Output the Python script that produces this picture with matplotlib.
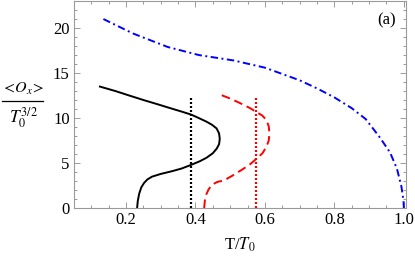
import matplotlib.pyplot as plt
import numpy as np

plt.rcParams['font.family'] = ['Liberation Serif', 'DejaVu Serif']
plt.rcParams['mathtext.fontset'] = 'stix'

# curves, (T/T0, <Ox>/T0^{3/2})
black_x = [0.232, 0.234, 0.238, 0.244, 0.252, 0.262, 0.275, 0.300, 0.332, 0.360,
           0.387, 0.412, 0.432, 0.450, 0.461, 0.468, 0.470, 0.468, 0.461, 0.448,
           0.432, 0.410, 0.387, 0.358, 0.328, 0.290, 0.251, 0.210, 0.170, 0.125]
black_y = [0.0, 0.8, 1.6, 2.3, 2.8, 3.2, 3.5, 3.8, 4.1, 4.4,
           4.8, 5.2, 5.6, 6.1, 6.6, 7.1, 7.7, 8.3, 8.85, 9.25,
           9.6, 10.0, 10.4, 10.75, 11.1, 11.55, 12.0, 12.5, 13.0, 13.5]

red_x = [0.425, 0.427, 0.431, 0.438, 0.448, 0.462, 0.483, 0.506, 0.531, 0.555,
         0.576, 0.593, 0.604, 0.611, 0.613, 0.611, 0.604, 0.592, 0.574, 0.559,
         0.540, 0.521, 0.495, 0.467]
red_y = [0.0, 0.8, 1.5, 2.1, 2.6, 2.9, 3.1, 3.6, 4.2, 4.8,
         5.5, 6.1, 6.8, 7.5, 8.3, 9.1, 9.8, 10.3, 10.7, 11.07,
         11.45, 11.8, 12.25, 12.67]

blue_x = [0.135, 0.22, 0.32, 0.41, 0.51, 0.60, 0.70, 0.75, 0.80, 0.85,
          0.89, 0.93, 0.96, 0.98, 0.993, 0.999, 1.0]
blue_y = [21.0, 19.4, 17.9, 17.0, 16.4, 15.6, 14.2, 13.3, 12.3, 11.1,
          9.9, 7.9, 6.2, 4.4, 2.4, 0.8, 0.0]

crit_x = [0.387, 0.575]
crit_top = 12.4

fig = plt.figure(figsize=(4.15, 2.57), dpi=100)
ax = fig.add_axes([0.178, 0.19, 0.801, 0.806])

ax.plot(black_x, black_y, color='black', lw=1.4)
ax.plot(red_x, red_y, color='red', lw=1.4, dashes=(4.5, 2.5))
ax.plot(blue_x, blue_y, color='blue', lw=1.4, dashes=(3.8, 1.8, 1.0, 1.8))
ax.plot([crit_x[0], crit_x[0]], [0, crit_top], color='black', lw=1.6, dashes=(0.9, 0.9))
ax.plot([crit_x[1], crit_x[1]], [0, crit_top], color='red', lw=1.6, dashes=(0.9, 0.9))

ax.set_xlim(0.051, 1.007)
ax.set_ylim(0, 23)
ax.set_xticks([0.2, 0.4, 0.6, 0.8, 1.0])
ax.set_xticklabels(['0.2', '0.4', '0.6', '0.8', '1.0'])
ax.set_xticks(np.arange(0.05, 1.01, 0.05), minor=True)
ax.set_yticks([0, 5, 10, 15, 20])
ax.set_yticks(np.arange(0, 24, 1), minor=True)

for s in ax.spines.values():
    s.set_color('#9a9a9a')
    s.set_linewidth(0.8)
ax.tick_params(which='both', direction='in', top=True, right=True,
               color='#9a9a9a', labelsize=12, width=0.7)
ax.tick_params(which='major', length=4, pad=3)
ax.tick_params(which='minor', length=2)

ax.set_xlabel(r'T/$T_0$', fontsize=12, labelpad=5)

# y label drawn as a stacked fraction
W, H = 415.0, 257.0
fig.text(23 / W, 1 - 89 / H, r'$<\!O_x\!>$', fontsize=11.5, ha='center', va='center')
fig.text(23 / W, 1 - 118 / H, r'$T_0^{3/2}$', fontsize=12.5, ha='center', va='center')
fig.add_artist(plt.Line2D([1.5 / W, 43 / W], [1 - 101.5 / H, 1 - 101.5 / H],
                          color='black', lw=0.9))

ax.text(0.95, 20.8, '(a)', fontsize=12, ha='center', va='center')

fig.savefig('out.png', dpi=100)
